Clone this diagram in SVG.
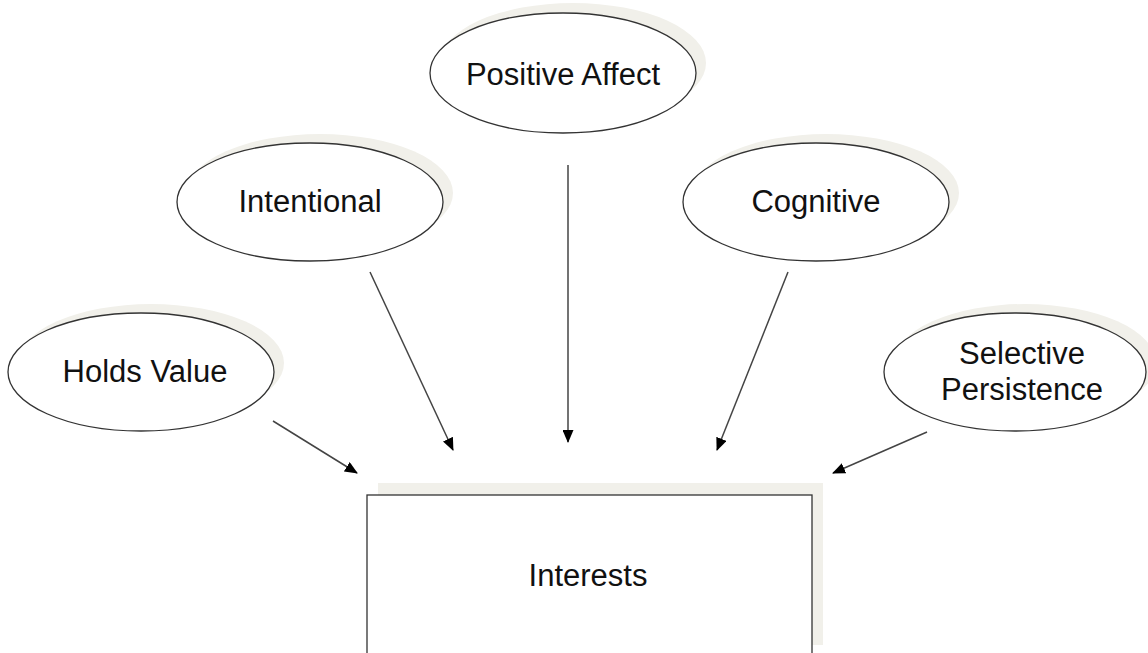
<svg xmlns="http://www.w3.org/2000/svg" width="1148" height="653" viewBox="0 0 1148 653">
  <style>
    .shadow { fill: #f1f0ea; stroke: none; }
    .shape { fill: #ffffff; stroke: #333333; stroke-width: 1.3; }
    .label { font-family: "Liberation Sans", Arial, sans-serif; font-size: 31px; fill: #111111; text-anchor: middle; }
    .conn { stroke: #444444; stroke-width: 1.5; fill: none; marker-end: url(#arrow); }
  </style>
  <defs>
    <marker id="arrow" viewBox="0 0 13 11" refX="12" refY="5.5" markerWidth="13" markerHeight="11" markerUnits="userSpaceOnUse" orient="auto">
      <path d="M0,0 L13,5.5 L0,11 Z" fill="#000000"/>
    </marker>
  </defs>
  <rect width="1148" height="653" fill="#ffffff"/>

  <g id="node-positive-affect">
    <ellipse class="shadow" cx="573" cy="63" rx="133" ry="60"/>
    <ellipse class="shape" cx="563" cy="73" rx="133" ry="60"/>
    <text class="label" x="563" y="85">Positive Affect</text>
  </g>

  <g id="node-intentional">
    <ellipse class="shadow" cx="320" cy="193" rx="133" ry="59"/>
    <ellipse class="shape" cx="310" cy="202" rx="133" ry="59"/>
    <text class="label" x="310" y="212">Intentional</text>
  </g>

  <g id="node-cognitive">
    <ellipse class="shadow" cx="826" cy="193" rx="133" ry="59"/>
    <ellipse class="shape" cx="816" cy="202" rx="133" ry="59"/>
    <text class="label" x="816" y="212">Cognitive</text>
  </g>

  <g id="node-holds-value">
    <ellipse class="shadow" cx="151" cy="363" rx="133" ry="59"/>
    <ellipse class="shape" cx="141" cy="372" rx="133" ry="59"/>
    <text class="label" x="145" y="382">Holds Value</text>
  </g>

  <g id="node-selective-persistence">
    <ellipse class="shadow" cx="1025" cy="363" rx="131" ry="59"/>
    <ellipse class="shape" cx="1015" cy="372" rx="131" ry="59"/>
    <text class="label" x="1022" y="364">Selective</text>
    <text class="label" x="1022" y="400">Persistence</text>
  </g>

  <g id="node-interests">
    <rect class="shadow" x="378" y="483" width="445" height="162"/>
    <rect class="shape" x="367" y="495" width="445" height="170"/>
    <text class="label" x="588" y="586">Interests</text>
  </g>

  <g id="connectors">
    <line class="conn" x1="273" y1="421" x2="357" y2="473"/>
    <line class="conn" x1="370" y1="272" x2="453" y2="450"/>
    <line class="conn" x1="568" y1="165" x2="568" y2="442"/>
    <line class="conn" x1="788" y1="272" x2="717" y2="450"/>
    <line class="conn" x1="927" y1="432" x2="833" y2="473"/>
  </g>
</svg>
